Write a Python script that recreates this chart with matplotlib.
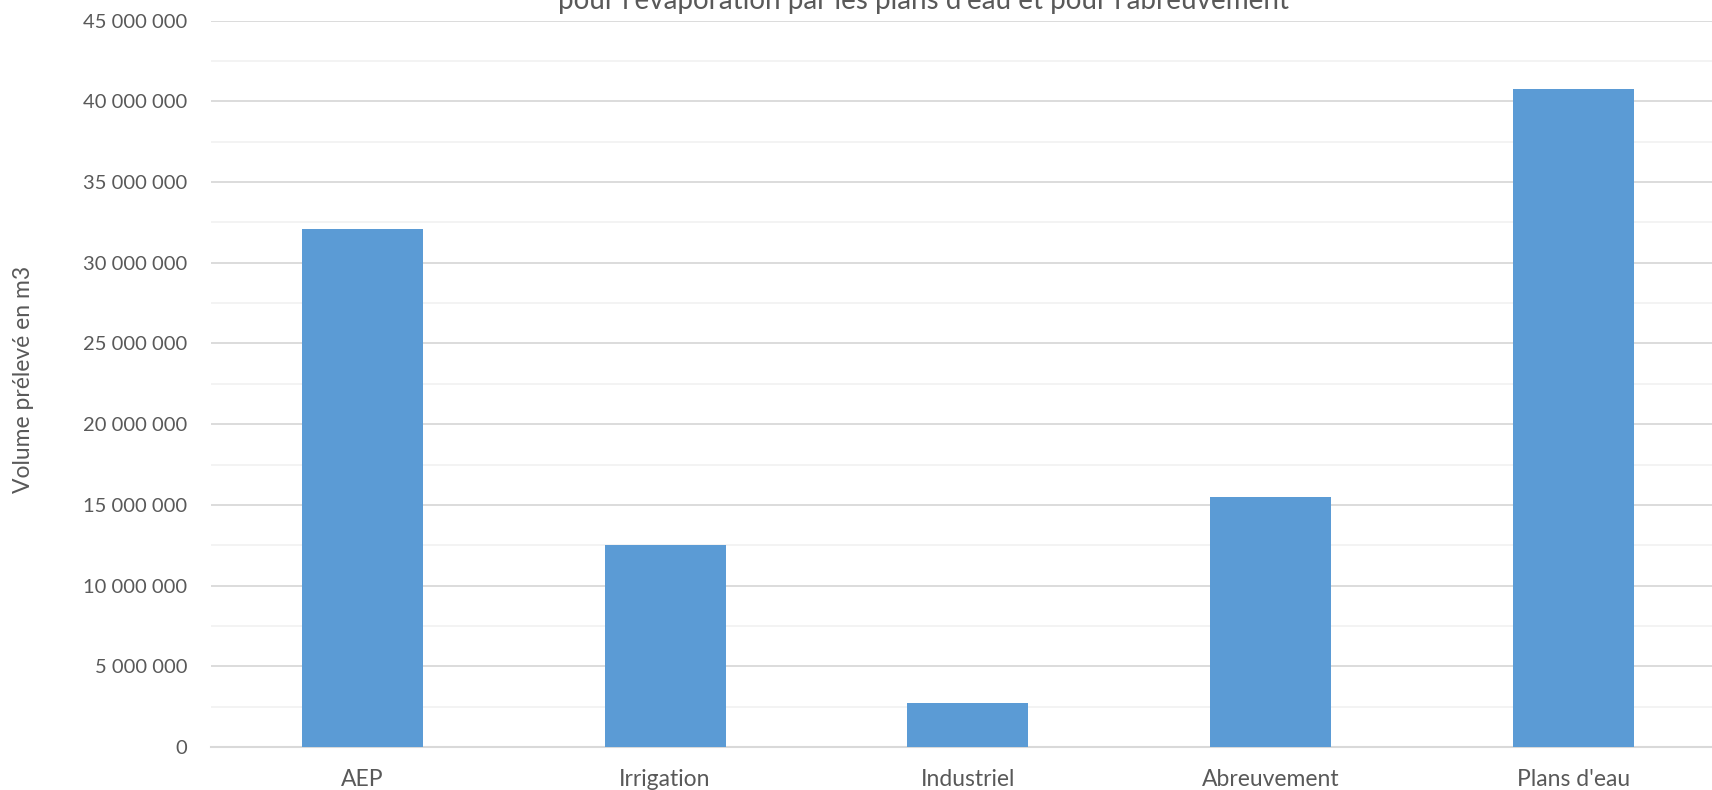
import matplotlib
matplotlib.use("Agg")
import matplotlib.pyplot as plt
from matplotlib.ticker import FuncFormatter, MultipleLocator

categories = ["AEP", "Irrigation", "Industriel", "Abreuvement", "Plans d'eau"]
volumes = [32070000, 12530000, 2720000, 15500000, 40790000]
title_line = "pour l'évaporation par les plans d'eau et pour l'abreuvement"
ylabel = "Volume prélevé en m3"

plt.rcParams["font.family"] = ["Lato", "DejaVu Sans"]

W, H = 1712, 790
fig = plt.figure(figsize=(W / 100, H / 100), dpi=100)
left = 211 / W
right = 1724.5 / W
bottom = 1 - 747 / H
top = 1 - 20.7 / H
ax = fig.add_axes([left, bottom, right - left, top - bottom])

x = list(range(len(categories)))
ax.bar(x, volumes, width=0.4, color="#5B9BD5", zorder=3)
ax.set_xlim(-0.5, len(categories) - 0.5)
ax.set_ylim(0, 45000000)

ax.yaxis.set_major_locator(MultipleLocator(5000000))
ax.yaxis.set_minor_locator(MultipleLocator(2500000))
ax.grid(which="major", axis="y", color="#D9D9D9", linewidth=1.3, zorder=0)
ax.grid(which="minor", axis="y", color="#F2F2F2", linewidth=1.3, zorder=0)
for s in ["top", "right", "left"]:
    ax.spines[s].set_visible(False)
ax.spines["bottom"].set_color("#D9D9D9")
ax.spines["bottom"].set_linewidth(1.5)

fmt = FuncFormatter(lambda v, p: f"{int(v):,}".replace(",", " "))
ax.yaxis.set_major_formatter(fmt)
ax.tick_params(axis="y", which="both", length=0, pad=17, labelsize=14.5, labelcolor="#595959")
ax.tick_params(axis="x", length=0, pad=16, labelsize=16.5, labelcolor="#595959")
ax.set_xticks(x)
ax.set_xticklabels(categories)

fig.text(24 / W, 1 - 379 / H, ylabel, rotation=90, ha="center", va="center",
         fontsize=16.5, color="#595959")
fig.text(924 / W, 1 - 9 / H, title_line, ha="center", va="baseline",
         fontsize=20, color="#595959")

fig.savefig("out.png", dpi=100)
